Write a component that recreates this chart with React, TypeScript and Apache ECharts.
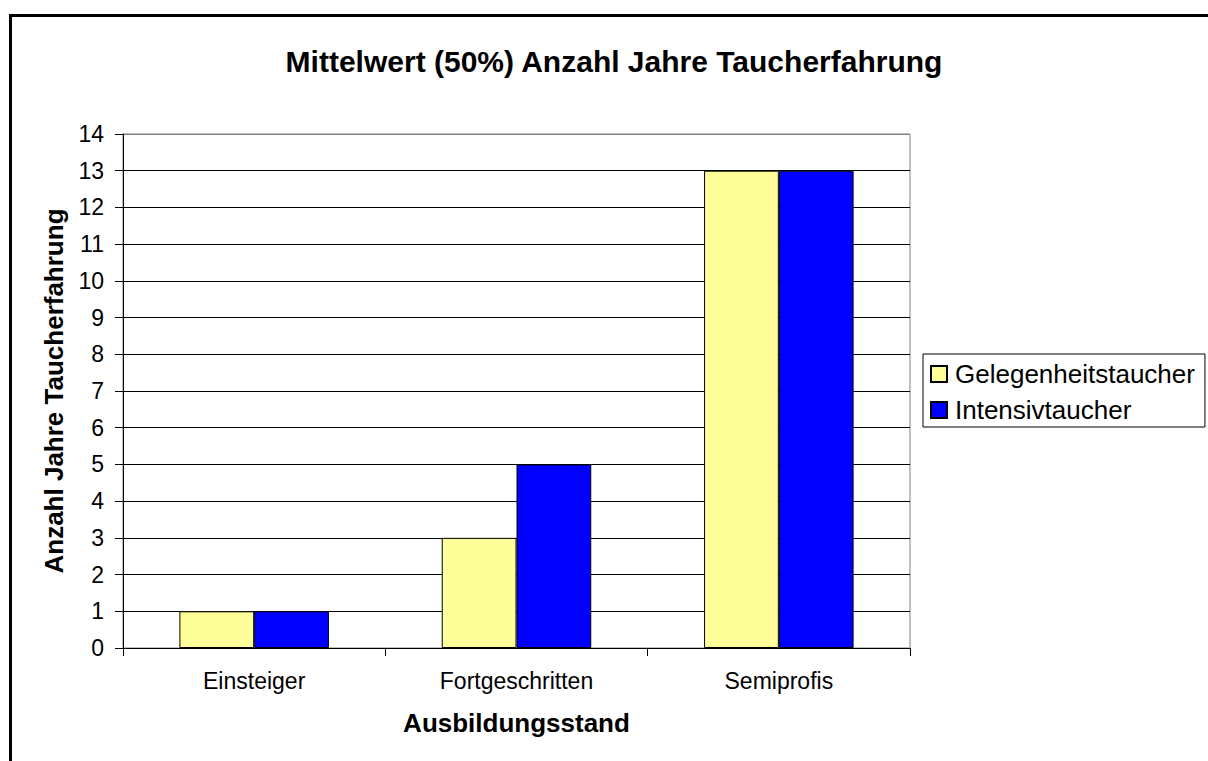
import React, { useEffect, useRef } from "react";
import * as echarts from "echarts";

const categories = ["Einsteiger", "Fortgeschritten", "Semiprofis"];
const gelegenheitstaucher = [1, 3, 13];
const intensivtaucher = [1, 5, 13];
const seriesNames = ["Gelegenheitstaucher", "Intensivtaucher"];
const titleText = "Mittelwert (50%) Anzahl Jahre Taucherfahrung";
const yAxisTitle = "Anzahl Jahre Taucherfahrung";
const xAxisTitle = "Ausbildungsstand";

const FONT = "'Liberation Sans', Arial, sans-serif";

export default function App() {
  const ref = useRef<HTMLDivElement>(null);
  useEffect(() => {
    if (!ref.current) return;
    const chart = echarts.init(ref.current, undefined, { renderer: "svg" });
    const splitColors: string[] = [];
    for (let i = 0; i < 15; i++) splitColors.push(i === 14 ? "#808080" : "#000000");
    chart.setOption({
      animation: false,
      backgroundColor: "#ffffff",
      textStyle: { fontFamily: FONT },
      title: {
        text: titleText,
        left: 614,
        textAlign: "center",
        top: 46,
        padding: 0,
        textStyle: { fontFamily: FONT, fontSize: 30, fontWeight: "bold", color: "#000" },
      },
      graphic: [
        {
          type: "rect",
          shape: { x: 10.5, y: 15.5, width: 1300, height: 900 },
          style: { fill: "none", stroke: "#000", lineWidth: 3 },
          silent: true,
          z: 100,
        },
      ],
      legend: {
        orient: "vertical",
        left: 923,
        top: 354,
        padding: [7, 10, 4, 7],
        itemGap: 10,
        itemWidth: 16,
        itemHeight: 16,
        icon: "rect",
        borderColor: "#000",
        borderWidth: 1,
        backgroundColor: "#fff",
        textStyle: { fontFamily: FONT, fontSize: 26, lineHeight: 26, color: "#000", padding: [0, 0, 0, 3] },
        data: seriesNames,
      },
      grid: {
        left: 123,
        right: 298,
        top: 134,
        bottom: 113,
        show: true,
        borderColor: "#808080",
        borderWidth: 1,
        backgroundColor: "transparent",
      },
      xAxis: {
        type: "category",
        data: categories,
        boundaryGap: true,
        name: xAxisTitle,
        nameLocation: "middle",
        nameGap: 62,
        nameTextStyle: { fontFamily: FONT, fontSize: 26, fontWeight: "bold", color: "#000" },
        axisLine: { show: true, lineStyle: { color: "#000", width: 1 } },
        axisTick: { show: true, length: 8, lineStyle: { color: "#000" } },
        axisLabel: { fontFamily: FONT, fontSize: 23, color: "#000", margin: 21 },
        splitLine: { show: false },
      },
      yAxis: {
        type: "value",
        min: 0,
        max: 14,
        interval: 1,
        name: yAxisTitle,
        nameLocation: "middle",
        nameRotate: 90,
        nameGap: 56,
        nameTextStyle: { fontFamily: FONT, fontSize: 26, fontWeight: "bold", color: "#000" },
        axisLine: { show: true, lineStyle: { color: "#000", width: 1 } },
        axisTick: { show: true, length: 8, lineStyle: { color: "#000" } },
        axisLabel: { fontFamily: FONT, fontSize: 23, color: "#000", margin: 19 },
        splitLine: { show: true, lineStyle: { color: splitColors, width: 1 } },
      },
      series: [
        {
          name: seriesNames[0],
          type: "bar",
          data: gelegenheitstaucher,
          barGap: "0%",
          barCategoryGap: "43%",
          itemStyle: { color: "#FFFF99", borderColor: "#000", borderWidth: 1 },
        },
        {
          name: seriesNames[1],
          type: "bar",
          data: intensivtaucher,
          barGap: "0%",
          barCategoryGap: "43%",
          itemStyle: { color: "#0000FF", borderColor: "#000", borderWidth: 1 },
        },
      ],
    });
    return () => chart.dispose();
  }, []);
  return (
    <div
      ref={ref}
      style={{ position: "fixed", left: 0, top: 0, width: 1208, height: 761 }}
    />
  );
}
